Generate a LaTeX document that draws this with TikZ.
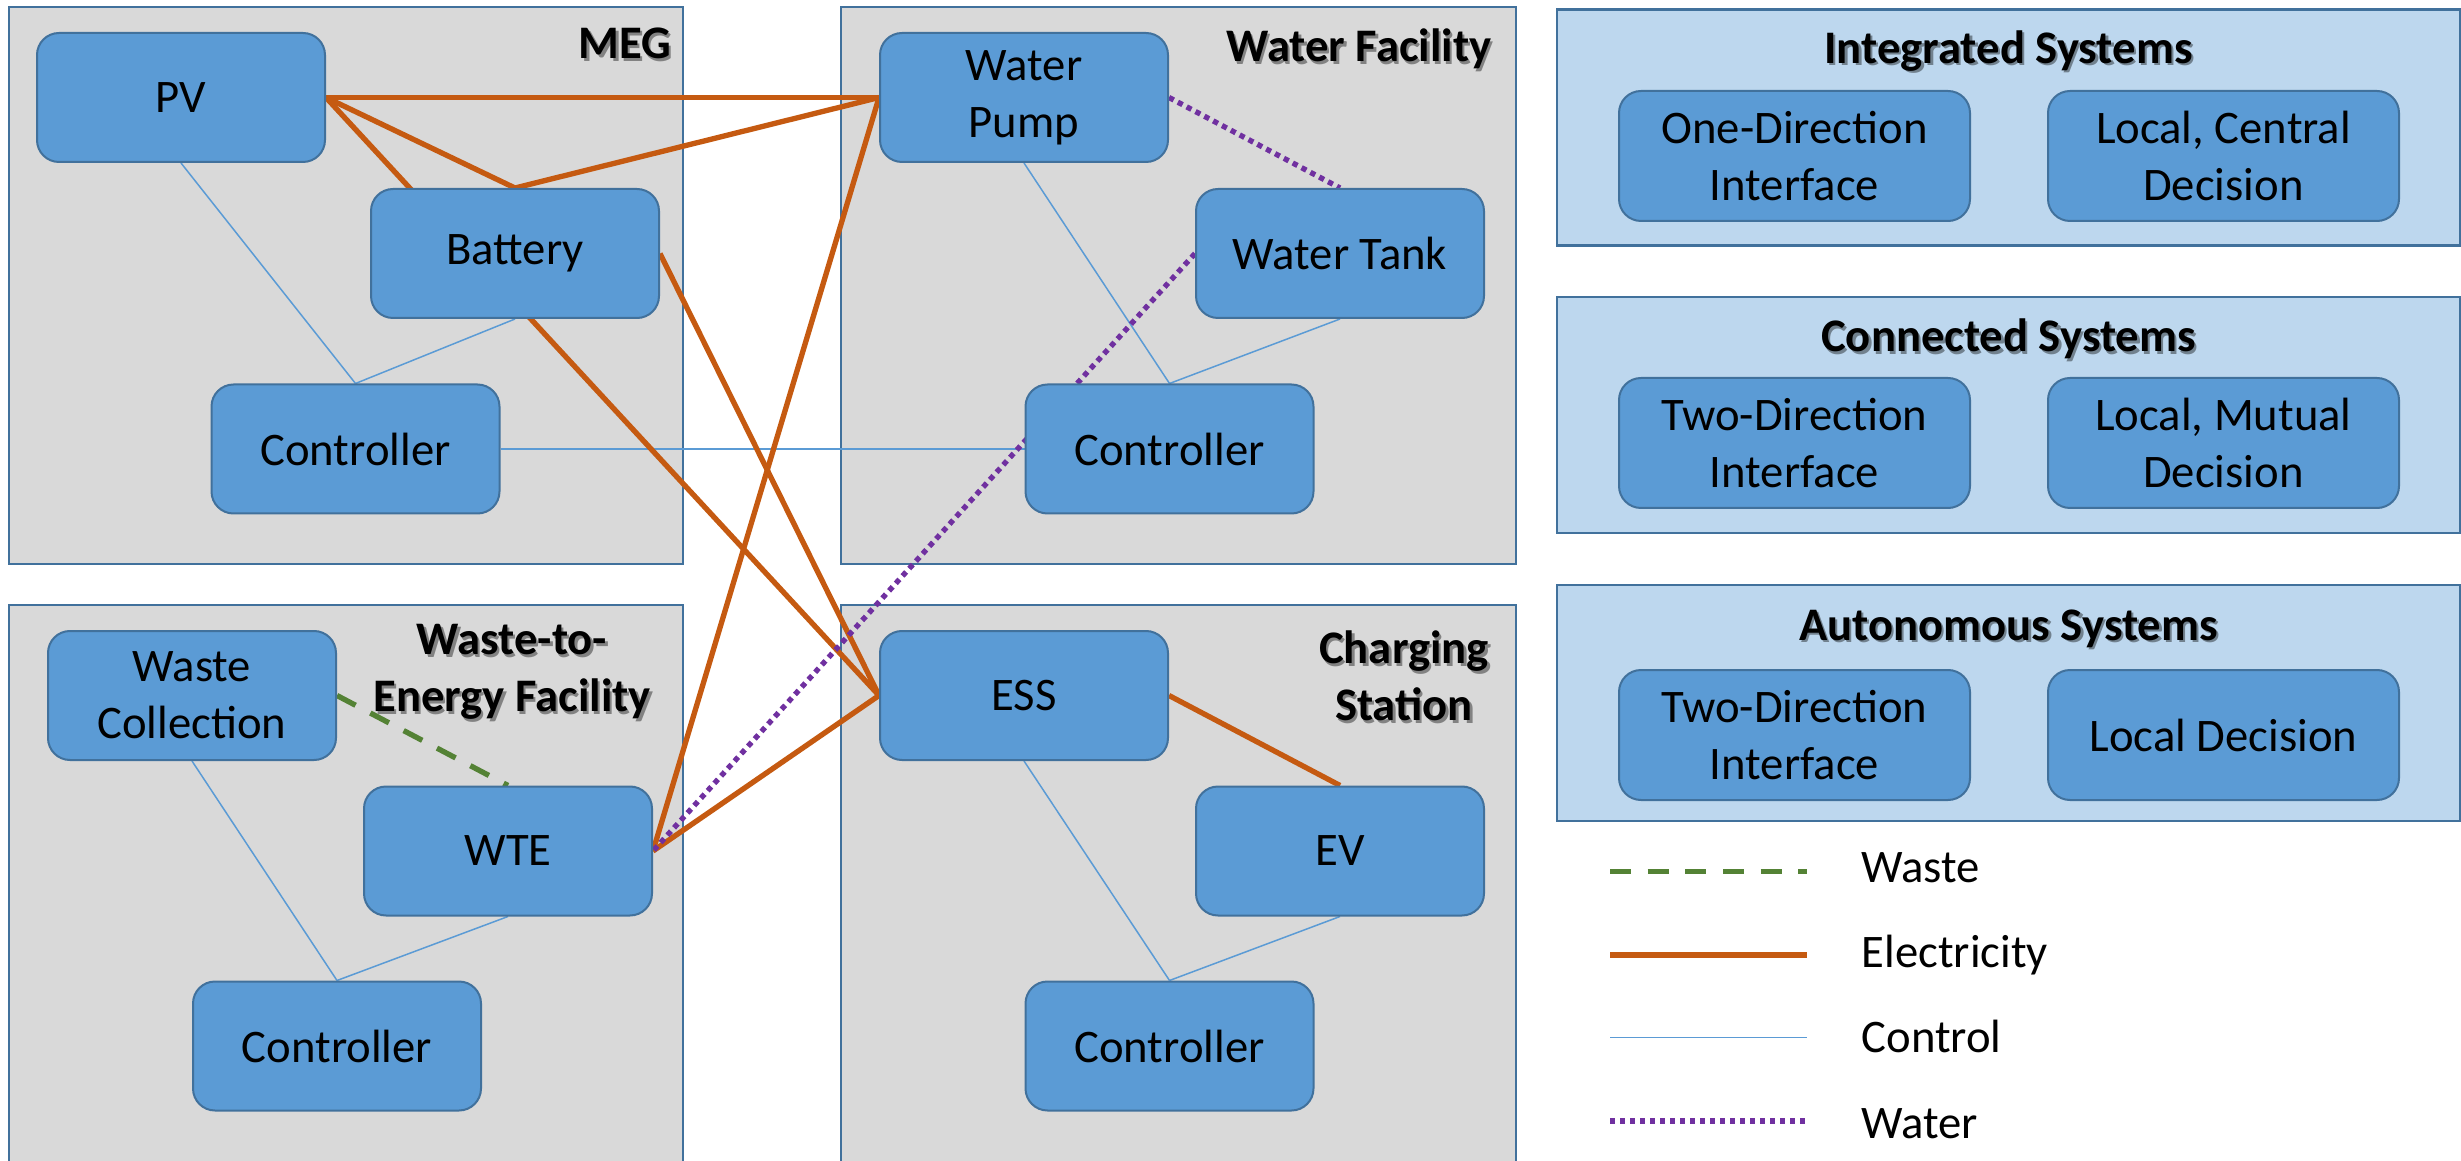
\documentclass[tikz,border=0pt]{standalone}
\usepackage{fontspec}
\setmainfont{Carlito}

\definecolor{panelgray}{HTML}{D9D9D9}
\definecolor{frameblue}{HTML}{41719C}
\definecolor{boxblue}{HTML}{5B9BD5}
\definecolor{catblue}{HTML}{BDD7EE}
\definecolor{elecorange}{HTML}{C55A11}
\definecolor{waterpurple}{HTML}{7030A0}
\definecolor{wastegreen}{HTML}{548235}

\pgfdeclarelayer{panels}
\pgfdeclarelayer{links}
\pgfsetlayers{panels,links,main}

\begin{document}
\begin{tikzpicture}[
  x=0.3pt, y=-0.3pt,
  font=\fontsize{14pt}{17.1pt}\selectfont,
  panel/.style={draw=frameblue, fill=panelgray, line width=0.8pt},
  catpanel/.style={draw=frameblue, fill=catblue, line width=0.8pt},
  unit/.style={rectangle, rounded corners=6.6pt, draw=frameblue, fill=boxblue,
    line width=0.6pt, minimum width=86.4pt, minimum height=38.7pt,
    inner sep=0pt, align=center},
  feature/.style={unit, minimum width=105.3pt, minimum height=39pt},
  title/.style={font=\fontsize{14pt}{17.1pt}\selectfont\bfseries, inner sep=0pt, align=center},
  titleshadow/.style={title, text=black, text opacity=0.4, xshift=0.7pt, yshift=-0.7pt},
  legendtext/.style={inner sep=0pt, anchor=base west},
  elec/.style={draw=elecorange, line width=1.6pt},
  ctrl/.style={draw=boxblue, line width=0.45pt},
  water/.style={draw=waterpurple, line width=1.6pt, dash pattern=on 1.6pt off 1.4pt},
  waste/.style={draw=wastegreen, line width=1.6pt, dash pattern=on 6.3pt off 5pt},
]
\useasboundingbox (0,0) rectangle (2461,1161);

% ---------- facility and category panels ----------
\begin{pgfonlayer}{panels}
  \draw[panel] (9,7) rectangle (683,564);
  \draw[panel] (841,7) rectangle (1516,564);
  \draw[panel] (9,605) rectangle (683,1185);
  \draw[panel] (841,605) rectangle (1516,1185);
  \draw[catpanel] (1557,9.5) rectangle (2460,245.5);
  \draw[catpanel] (1557,297) rectangle (2460,533);
  \draw[catpanel] (1557,585) rectangle (2460,821);
\end{pgfonlayer}

% ---------- MEG ----------
\node[unit] (pv) at (181,97.5) {PV};
\node[unit] (battery) at (515,253.5) {Battery};
\node[unit] (megctrl) at (355.5,449) {Controller};
\node[titleshadow, anchor=base east] (megS) at (672,59) {MEG};
\node[title, anchor=base east] (meg) at (672,59) {MEG};

% ---------- Water facility ----------
\node[unit] (pump) at (1024,97.5) {Water\\Pump};
\node[unit] (tank) at (1340,253.5) {Water Tank};
\node[unit] (wfctrl) at (1169.5,449) {Controller};
\node[titleshadow, anchor=base east] (wfS) at (1492,62) {Water Facility};
\node[title, anchor=base east] (wf) at (1492,62) {Water Facility};

% ---------- Waste-to-energy facility ----------
\node[unit] (collect) at (192,695.5) {Waste\\Collection};
\node[unit] (wte) at (508,851) {WTE};
\node[unit] (wtectrl) at (337,1046) {Controller};
\node[titleshadow] (wtefS) at (512,672) {Waste-to-\\Energy Facility};
\node[title] (wtef) at (512,672) {Waste-to-\\Energy Facility};

% ---------- Charging station ----------
\node[unit] (ess) at (1024,695.5) {ESS};
\node[unit] (ev) at (1340,851) {EV};
\node[unit] (csctrl) at (1169.5,1046) {Controller};
\node[titleshadow] (csS) at (1404,676) {Charging\\Station};
\node[title] (cs) at (1404,676) {Charging\\Station};

% ---------- system categories ----------
\node[titleshadow, anchor=base] (intS) at (2008.5,63.5) {Integrated Systems};
\node[title, anchor=base] (int) at (2008.5,63.5) {Integrated Systems};
\node[feature] (intIf) at (1794.5,156) {One-Direction\\Interface};
\node[feature] (intDec) at (2223.5,156) {Local, Central\\Decision};

\node[titleshadow, anchor=base] (conS) at (2008.5,352) {Connected Systems};
\node[title, anchor=base] (con) at (2008.5,352) {Connected Systems};
\node[feature] (conIf) at (1794.5,443) {Two-Direction\\Interface};
\node[feature] (conDec) at (2223.5,443) {Local, Mutual\\Decision};

\node[titleshadow, anchor=base] (autS) at (2008.5,640.5) {Autonomous Systems};
\node[title, anchor=base] (aut) at (2008.5,640.5) {Autonomous Systems};
\node[feature] (autIf) at (1794.5,735) {Two-Direction\\Interface};
\node[feature] (autDec) at (2223.5,735) {Local Decision};

% ---------- legend ----------
\coordinate (lgWasteA) at (1610,871.7);  \coordinate (lgWasteB) at (1807,871.7);
\coordinate (lgElecA) at (1610,955);     \coordinate (lgElecB) at (1807,955);
\coordinate (lgCtrlA) at (1610,1037.7);  \coordinate (lgCtrlB) at (1807,1037.7);
\coordinate (lgWaterA) at (1610,1121);   \coordinate (lgWaterB) at (1807,1121);
\node[legendtext] (lgWaste) at (1861,882.3) {Waste};
\node[legendtext] (lgElec) at (1861,967.3) {Electricity};
\node[legendtext] (lgCtrl) at (1861,1052.7) {Control};
\node[legendtext] (lgWater) at (1861,1138.3) {Water};

% ---------- flows ----------
\begin{pgfonlayer}{links}
  % control
  \draw[ctrl] (pv.south) -- (megctrl.north);
  \draw[ctrl] (battery.south) -- (megctrl.north);
  \draw[ctrl] (megctrl.east) -- (wfctrl.west);
  \draw[ctrl] (pump.south) -- (wfctrl.north);
  \draw[ctrl] (tank.south) -- (wfctrl.north);
  \draw[ctrl] (collect.south) -- (wtectrl.north);
  \draw[ctrl] (wte.south) -- (wtectrl.north);
  \draw[ctrl] (ess.south) -- (csctrl.north);
  \draw[ctrl] (ev.south) -- (csctrl.north);
  % electricity
  \draw[elec] (pv.east) -- (pump.west);
  \draw[elec] (pv.east) -- (battery.north);
  \draw[elec] (battery.north) -- (pump.west);
  \draw[elec] (pv.east) -- (ess.west);
  \draw[elec] (battery.east) -- (ess.west);
  \draw[elec] (wte.east) -- (pump.west);
  \draw[elec] (wte.east) -- (ess.west);
  \draw[elec] (ess.east) -- (ev.north);
  % water
  \draw[water] (pump.east) -- (tank.north);
  \draw[water] (tank.west) -- (wte.east);
  % waste
  \draw[waste] (collect.east) -- (wte.north);
  % legend samples
  \draw[waste] (lgWasteA) -- (lgWasteB);
  \draw[elec] (lgElecA) -- (lgElecB);
  \draw[ctrl] (lgCtrlA) -- (lgCtrlB);
  \draw[water] (lgWaterA) -- (lgWaterB);
\end{pgfonlayer}
\end{tikzpicture}
\end{document}
